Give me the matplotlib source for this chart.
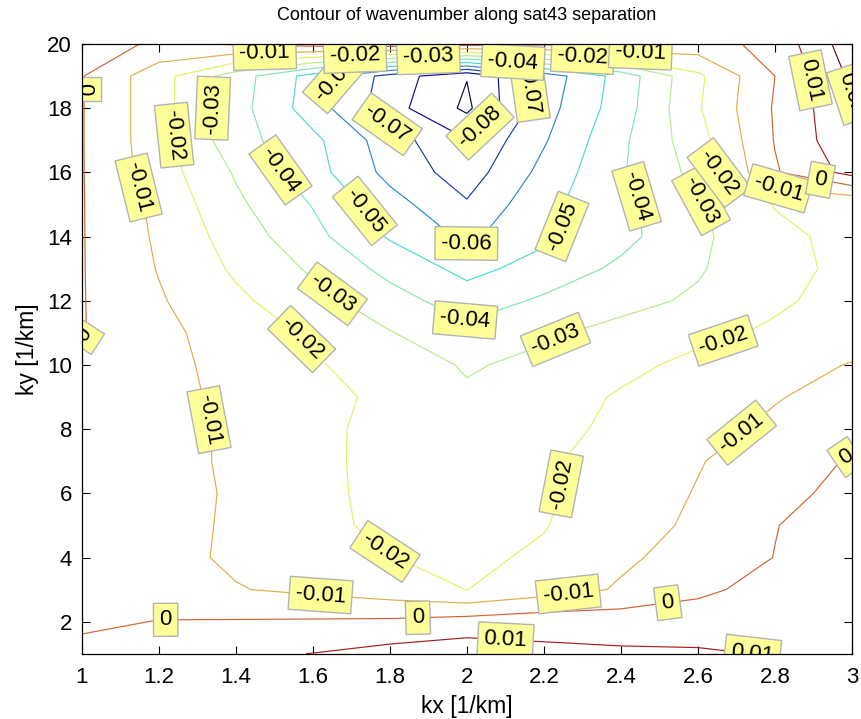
import numpy as np
import matplotlib
matplotlib.use("Agg")
import matplotlib.pyplot as plt
from matplotlib import colors as mcolors

plt.rcParams['font.family'] = ['Liberation Sans', 'DejaVu Sans']

# ---- data: grid of kx (columns) and ky (rows) ----
kx = [1.0, 1.2, 1.4, 1.6, 1.8, 2.0, 2.2, 2.4, 2.6, 2.8, 3.0]
ky = [1, 2, 3, 4, 5, 6, 7, 8, 9, 10, 11, 12, 13, 14, 15, 16, 17, 18, 19, 20]

wn_ky01 = [0.004, 0.006, 0.008, 0.0102, 0.0136, 0.016, 0.0124, 0.0113, 0.0112, 0.0095, 0.009]
wn_ky02 = [-0.0025, 0.0004, 0.0007, 0.0011, 0.0017, 0.004, 0.006, 0.006, 0.005, 0.006, 0.008]
wn_ky03 = [-0.0045, -0.0065, -0.0095, -0.012, -0.0155, -0.0201, -0.0145, -0.009, -0.002, 0.0035, 0.007]
wn_ky04 = [-0.0045, -0.007, -0.0115, -0.0165, -0.0198, -0.022, -0.0185, -0.0115, -0.0065, 0.0002, 0.006]
wn_ky05 = [-0.0045, -0.0075, -0.011, -0.0165, -0.023, -0.023, -0.0205, -0.0135, -0.0085, -0.0003, 0.005]
wn_ky06 = [-0.0045, -0.0075, -0.0108, -0.0165, -0.024, -0.024, -0.0215, -0.0145, -0.0095, -0.003, 0.003]
wn_ky07 = [-0.0045, -0.0078, -0.011, -0.0165, -0.0245, -0.025, -0.0215, -0.0155, -0.0105, -0.0055, 0.001]
wn_ky08 = [-0.0045, -0.0078, -0.011, -0.016, -0.025, -0.026, -0.0235, -0.0175, -0.0125, -0.0085, -0.003]
wn_ky09 = [-0.0045, -0.008, -0.0115, -0.0165, -0.0225, -0.0285, -0.0245, -0.019, -0.0145, -0.0105, -0.007]
wn_ky10 = [-0.003, -0.008, -0.0122, -0.019, -0.0245, -0.031, -0.0275, -0.0225, -0.0175, -0.0135, -0.0095]
wn_ky11 = [0.0005, -0.0075, -0.0145, -0.0215, -0.0295, -0.037, -0.0315, -0.027, -0.0225, -0.0185, -0.0145]
wn_ky12 = [0.0005, -0.009, -0.018, -0.0265, -0.036, -0.045, -0.0385, -0.033, -0.0285, -0.0215, -0.0165]
wn_ky13 = [0.0005, -0.0105, -0.0215, -0.0315, -0.043, -0.053, -0.046, -0.038, -0.031, -0.0225, -0.018]
wn_ky14 = [0.0005, -0.0115, -0.0245, -0.037, -0.051, -0.062, -0.052, -0.043, -0.032, -0.0225, -0.017]
wn_ky15 = [0.0005, -0.0125, -0.028, -0.0405, -0.056, -0.069, -0.0525, -0.043, -0.031, -0.0195, -0.019]
wn_ky16 = [0.0005, -0.015, -0.031, -0.046, -0.063, -0.075, -0.057, -0.041, -0.027, -0.001, 0.0133]
wn_ky17 = [0.0005, -0.016, -0.036, -0.0475, -0.0654, -0.0795, -0.061, -0.042, -0.024, 0.0005, 0.018]
wn_ky18 = [0.0005, -0.016, -0.036, -0.055, -0.076, -0.092, -0.064, -0.045, -0.021, 0.001, 0.019]
wn_ky19 = [0.0005, -0.016, -0.035, -0.054, -0.074, -0.0896, -0.066, -0.046, -0.022, 0.0, 0.022]
wn_ky20 = [0.006, -0.002, 0.001, 0.004, 0.006, 0.004, 0.002, 0.001, -0.004, 0.003, 0.026]

levels = [-0.09, -0.08, -0.07, -0.06, -0.05, -0.04, -0.03, -0.02, -0.01, 0.0, 0.01, 0.02]

x_ticks = [1, 1.2, 1.4, 1.6, 1.8, 2, 2.2, 2.4, 2.6, 2.8, 3]
y_ticks = [2, 4, 6, 8, 10, 12, 14, 16, 18, 20]

# contour labels: level and approximate place along the line
label_levels = [-0.06, -0.07, -0.01, -0.02, -0.03, -0.04, -0.02, -0.01,
                -0.03, -0.02, -0.01, 0.0, 0.0, -0.04, -0.07, -0.08,
                -0.05, -0.06, -0.05, -0.04, -0.03, -0.02, -0.01, 0.0,
                0.01, 0.02, -0.03, -0.04, -0.03, -0.02, -0.02, -0.01,
                -0.01, 0.0, -0.02, -0.02, -0.01, -0.01, 0.0, 0.0,
                0.0, 0.01, 0.01]
label_places = [(1.66, 18.9), (2.16, 18.6), (1.475, 19.8), (1.71, 19.5),
                (1.90, 19.65), (2.12, 19.5), (2.30, 19.5), (2.45, 19.5),
                (1.338, 18.0), (1.242, 17.16), (1.14, 15.5), (1.03, 18.6),
                (1.016, 10.8), (1.51, 16.03), (1.80, 17.6), (2.044, 17.3),
                (1.735, 14.8), (1.995, 13.7), (2.26, 14.3), (2.45, 15.3),
                (2.605, 15.1), (2.65, 15.9), (2.81, 15.6), (2.917, 15.7),
                (2.87, 18.84), (2.96, 18.3), (1.62, 11.75), (1.997, 11.44),
                (2.23, 10.8), (1.57, 10.8), (2.66, 10.97), (1.314, 8.24),
                (2.66, 8.7), (2.97, 7.4), (2.24, 6.3), (1.743, 3.56),
                (1.62, 2.78), (2.265, 2.69), (1.218, 2.12), (1.873, 2.12),
                (2.52, 2.75), (2.10, 1.34), (2.77, 1.13)]

# ---- figure ----
Z = np.array([wn_ky01, wn_ky02, wn_ky03, wn_ky04, wn_ky05, wn_ky06, wn_ky07,
              wn_ky08, wn_ky09, wn_ky10, wn_ky11, wn_ky12, wn_ky13, wn_ky14,
              wn_ky15, wn_ky16, wn_ky17, wn_ky18, wn_ky19, wn_ky20])
KX, KY = np.meshgrid(kx, ky)

# jet colours, softened the way thin lines look in the reference
norm = mcolors.Normalize(vmin=min(levels), vmax=max(levels))
jet = matplotlib.colormaps['jet']
line_colors = []
for lev in levels:
    r, g, b, _ = jet(norm(lev))
    y = 0.299 * r + 0.587 * g + 0.114 * b
    k = 0.6
    line_colors.append((y + k * (r - y), y + k * (g - y), y + k * (b - y)))

fig = plt.figure(figsize=(8.61, 7.19), dpi=100)
ax = fig.add_axes([81.7 / 861, 1 - 653.8 / 719, (852 - 81.7) / 861, (653.8 - 44) / 719])

cs = ax.contour(KX, KY, Z, levels=levels, colors=line_colors, linewidths=0.85)

fmt = lambda v: '%g' % (round(v, 3) + 0.0)
all_texts = []
for lev, pos in zip(label_levels, label_places):
    cs_one = ax.contour(KX, KY, Z, levels=[lev], colors='none', linewidths=0)
    cs_one.clabel(manual=[pos], inline=False, fontsize=16, colors='k', fmt=fmt)
    all_texts.extend(cs_one.labelTexts)

for t in all_texts:
    t.set_bbox(dict(boxstyle='square,pad=0.27', facecolor=(1, 1, 0.6),
                    edgecolor=(0.7, 0.7, 0.7), linewidth=1.0))
    t.set_clip_on(True)
    t.set_clip_box(ax.bbox)
    t.set_zorder(5)

ax.set_xlim(1, 3)
ax.set_ylim(1, 20)
ax.set_xticks(x_ticks)
ax.set_xticklabels(['%g' % v for v in x_ticks])
ax.set_yticks(y_ticks)
ax.tick_params(direction='in', length=5.5, width=0.8, top=True, right=True,
               labelsize=16)
ax.tick_params(axis='x', pad=9.5)
ax.tick_params(axis='y', pad=7)
for s in ax.spines.values():
    s.set_linewidth(0.9)
    s.set_zorder(6)

ax.set_title('Contour of wavenumber along sat43 separation', fontsize=13, pad=17)
ax.set_xlabel('kx [1/km]', fontsize=16.5, labelpad=5)
ax.set_ylabel('ky [1/km]', fontsize=16.5, labelpad=6)

fig.savefig('out.png', dpi=100)
